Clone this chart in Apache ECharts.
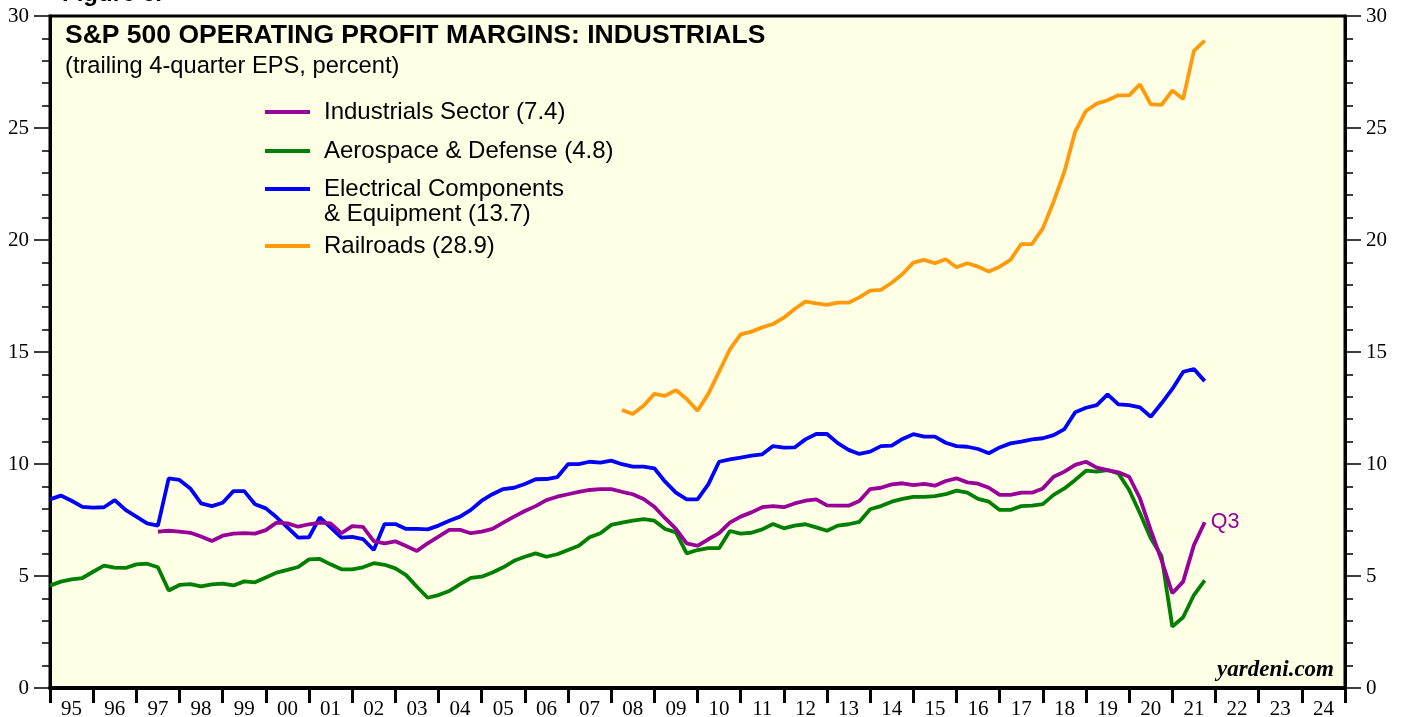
<!DOCTYPE html>
<html>
<head>
<meta charset="utf-8">
<script src="https://cdn.jsdelivr.net/npm/echarts@6/dist/echarts.min.js"></script>
<style>
html,body{margin:0;padding:0;background:#fff;}
#chart{width:1405px;height:717px;}
</style>
</head>
<body>
<div id="chart"></div>
<script>
// Quarterly data, first point = end of 1994 Q4 (x = 1995.0), step = 0.25 year
var firstX = 1995.0;
var step = 0.25;

var yearLabels = ['95','96','97','98','99','00','01','02','03','04','05','06','07','08','09','10','11','12','13','14','15','16','17','18','19','20','21','22','23','24'];
var yTicks = [0, 5, 10, 15, 20, 25, 30];

// Industrials Sector (starts at index 10)
var industrialsStart = 10;
var industrials = [
  6.98, 7.02, 6.98, 6.93, 6.76, 6.56, 6.80, 6.89, 6.91, 6.89,
  7.05, 7.38, 7.35, 7.20, 7.31, 7.38, 7.35, 6.91, 7.23, 7.19,
  6.56, 6.46, 6.55, 6.34, 6.12, 6.46, 6.76, 7.06, 7.06,
  6.91, 6.98, 7.10, 7.38, 7.65, 7.90, 8.12, 8.39, 8.54, 8.65,
  8.76, 8.84, 8.88, 8.88, 8.76, 8.65, 8.44, 8.09, 7.58, 7.10,
  6.46, 6.35, 6.64, 6.91, 7.38, 7.65, 7.84, 8.07, 8.12, 8.07,
  8.24, 8.36, 8.42, 8.15,
  8.14, 8.14, 8.35, 8.88, 8.94, 9.09, 9.14, 9.06, 9.11, 9.03,
  9.24, 9.36, 9.18, 9.12, 8.94, 8.62, 8.62, 8.72, 8.72, 8.91,
  9.43, 9.66, 9.96, 10.10, 9.84, 9.73, 9.63, 9.43, 8.47, 7.05,
  5.71, 4.23, 4.75, 6.38, 7.4
];

// Aerospace & Defense (starts at index 0)
var aerospaceStart = 0;
var aerospace = [
  4.57, 4.75, 4.85, 4.91, 5.19, 5.46, 5.37, 5.36, 5.52, 5.55,
  5.39, 4.35, 4.60, 4.64, 4.54, 4.63, 4.66, 4.58, 4.76, 4.72,
  4.93, 5.15, 5.27, 5.40, 5.74, 5.76, 5.52, 5.30, 5.30, 5.39,
  5.57, 5.50, 5.34, 5.04, 4.52, 4.03, 4.15, 4.33, 4.64,
  4.92, 4.97, 5.16, 5.39, 5.68, 5.86, 6.01, 5.86, 5.97, 6.16,
  6.35, 6.73, 6.91, 7.28, 7.38, 7.47, 7.54, 7.47, 7.10, 6.95,
  6.01, 6.16, 6.24, 6.24, 7.01, 6.89, 6.93, 7.08, 7.32, 7.13,
  7.25, 7.31, 7.17, 7.02,
  7.25, 7.31, 7.42, 7.98, 8.12, 8.32, 8.44, 8.53, 8.53, 8.57,
  8.65, 8.81, 8.72, 8.44, 8.32, 7.95, 7.95, 8.12, 8.14, 8.21,
  8.62, 8.91, 9.29, 9.70, 9.66, 9.73, 9.58, 8.84, 7.80, 6.68,
  5.89, 2.74, 3.16, 4.15, 4.8
];

// Electrical Components & Equipment (starts at index 0)
var electricalStart = 0;
var electrical = [
  8.42, 8.59, 8.36, 8.09, 8.05, 8.07, 8.39, 7.95, 7.65, 7.35,
  7.25, 9.36, 9.29, 8.91, 8.24, 8.12, 8.27, 8.79, 8.79, 8.20,
  8.02, 7.62, 7.17, 6.71, 6.73, 7.62, 7.17, 6.71, 6.75, 6.65,
  6.16, 7.32, 7.32, 7.10, 7.10, 7.08, 7.25, 7.47, 7.65,
  7.95, 8.36, 8.65, 8.88, 8.94, 9.11, 9.32, 9.33, 9.41, 9.99,
  9.99, 10.10, 10.06, 10.15, 9.99, 9.88, 9.88, 9.81, 9.21, 8.72,
  8.42, 8.42, 9.09, 10.10, 10.21, 10.28, 10.37, 10.43, 10.80, 10.73,
  10.74, 11.10, 11.34, 11.34,
  10.93, 10.63, 10.45, 10.55, 10.80, 10.82, 11.12, 11.33, 11.22, 11.22,
  10.95, 10.80, 10.77, 10.67, 10.48, 10.74, 10.92, 11.00, 11.10, 11.15,
  11.29, 11.56, 12.31, 12.51, 12.63, 13.11, 12.66, 12.63, 12.53, 12.11,
  12.71, 13.35, 14.11, 14.24, 13.7
];

// Railroads (starts at index 53)
var railroadsStart = 53;
var railroads = [
  12.41, 12.23, 12.60, 13.13, 13.04, 13.30, 12.90, 12.38, 13.13, 14.12,
  15.12, 15.79, 15.91, 16.10, 16.25, 16.53, 16.92, 17.25, 17.17, 17.10,
  17.20, 17.20, 17.44, 17.74, 17.77, 18.09, 18.48, 18.99, 19.11, 18.96,
  19.14, 18.78, 18.96, 18.81, 18.59, 18.81, 19.11, 19.82, 19.82, 20.52,
  21.71, 23.05, 24.84, 25.76, 26.09, 26.24, 26.46, 26.46, 26.95, 26.06,
  26.03, 26.67, 26.29, 28.44, 28.9
];

var legendNames = [
  'Industrials Sector (7.4)',
  'Aerospace & Defense (4.8)',
  'Electrical Components\n& Equipment (13.7)',
  'Railroads (28.9)'
];
var colors = ['#990099', '#007f00', '#0000ff', '#ff9a0a'];

function pairs(arr, start) {
  return arr.map(function (v, k) { return [firstX + (start + k) * step, v]; });
}

var chart = echarts.init(document.getElementById('chart'), null, {renderer: 'canvas'});

var serifFont = '"Liberation Serif", "Times New Roman", serif';
var sansFont = '"Liberation Sans", Arial, Helvetica, sans-serif';

function yAxisCfg(pos) {
  return {
    type: 'value', position: pos, min: 0, max: 30, interval: 5,
    axisLine: {show: true, onZero: false, lineStyle: {color: '#000', width: 3}},
    axisTick: {show: true, inside: false, length: 16, lineStyle: {color: '#000', width: 1.5}},
    minorTick: {show: true, splitNumber: 5, length: 8, lineStyle: {color: '#000', width: 1.5}},
    splitLine: {show: false},
    axisLabel: {show: true, margin: 21, fontFamily: serifFont, fontSize: 21, color: '#000'}
  };
}

var option = {
  backgroundColor: '#ffffff',
  animation: false,
  grid: {
    left: 50, right: 60, top: 16, bottom: 29,
    containLabel: false, outerBoundsMode: 'none',
    show: true, backgroundColor: '#ffffe6', borderColor: '#000', borderWidth: 3
  },
  xAxis: [
    {type: 'value', min: 1995, max: 2025, interval: 1, show: false, position: 'bottom'},
    {
      type: 'category', data: yearLabels, boundaryGap: true, position: 'bottom',
      axisLine: {show: true, lineStyle: {color: '#000', width: 4}},
      axisTick: {show: true, inside: false, length: 15, alignWithLabel: false, interval: 0, lineStyle: {color: '#000', width: 3}},
      axisLabel: {show: true, interval: 0, margin: 11, fontFamily: serifFont, fontSize: 21, color: '#000'},
      splitLine: {show: false}
    }
  ],
  yAxis: [yAxisCfg('left'), yAxisCfg('right')],
  series: [
    {
      name: legendNames[3], type: 'line', xAxisIndex: 0, yAxisIndex: 0,
      data: pairs(railroads, railroadsStart), showSymbol: false, symbol: 'none',
      lineStyle: {color: colors[3], width: 3.8}, z: 2
    },
    {
      name: legendNames[2], type: 'line', xAxisIndex: 0, yAxisIndex: 0,
      data: pairs(electrical, electricalStart), showSymbol: false, symbol: 'none',
      lineStyle: {color: colors[2], width: 3.8}, z: 3
    },
    {
      name: legendNames[1], type: 'line', xAxisIndex: 0, yAxisIndex: 0,
      data: pairs(aerospace, aerospaceStart), showSymbol: false, symbol: 'none',
      lineStyle: {color: colors[1], width: 3.8}, z: 4
    },
    {
      name: legendNames[0], type: 'line', xAxisIndex: 0, yAxisIndex: 0,
      data: pairs(industrials, industrialsStart), showSymbol: false, symbol: 'none',
      lineStyle: {color: colors[0], width: 3.8}, z: 5,
      endLabel: {show: true, formatter: 'Q3', color: colors[0], fontFamily: sansFont, fontSize: 21.5, distance: 6}
    }
  ],
  graphic: [
    {type: 'text', left: 62, top: -18, style: {text: 'Figure 6.', fontFamily: sansFont, fontWeight: 'bold', fontSize: 24, fill: '#000'}},
    {type: 'text', left: 65, top: 22, style: {text: 'S&P 500 OPERATING PROFIT MARGINS: INDUSTRIALS', fontFamily: sansFont, fontWeight: 'bold', fontSize: 26.5, fill: '#000'}, z: 10},
    {type: 'text', left: 65, top: 54, style: {text: '(trailing 4-quarter EPS, percent)', fontFamily: sansFont, fontSize: 23.7, fill: '#000'}, z: 10},
    // legend
    {type: 'line', shape: {x1: 265, y1: 112, x2: 310, y2: 112}, style: {stroke: colors[0], lineWidth: 4}, z: 10},
    {type: 'text', left: 324, top: 100, style: {text: legendNames[0], fontFamily: sansFont, fontSize: 24, fill: '#000'}, z: 10},
    {type: 'line', shape: {x1: 265, y1: 151, x2: 310, y2: 151}, style: {stroke: colors[1], lineWidth: 4}, z: 10},
    {type: 'text', left: 324, top: 139, style: {text: legendNames[1], fontFamily: sansFont, fontSize: 24, fill: '#000'}, z: 10},
    {type: 'line', shape: {x1: 265, y1: 189, x2: 310, y2: 189}, style: {stroke: colors[2], lineWidth: 4}, z: 10},
    {type: 'text', left: 324, top: 177, style: {text: legendNames[2], fontFamily: sansFont, fontSize: 24, lineHeight: 25, fill: '#000'}, z: 10},
    {type: 'line', shape: {x1: 265, y1: 246, x2: 310, y2: 246}, style: {stroke: colors[3], lineWidth: 4}, z: 10},
    {type: 'text', left: 324, top: 234, style: {text: legendNames[3], fontFamily: sansFont, fontSize: 24, fill: '#000'}, z: 10},
    // source
    {type: 'text', right: 71, top: 659, style: {text: 'yardeni.com', fontFamily: serifFont, fontWeight: 'bold', fontStyle: 'italic', fontSize: 23, fill: '#000'}, z: 10}
  ]
};
chart.setOption(option);
</script>
</body>
</html>
